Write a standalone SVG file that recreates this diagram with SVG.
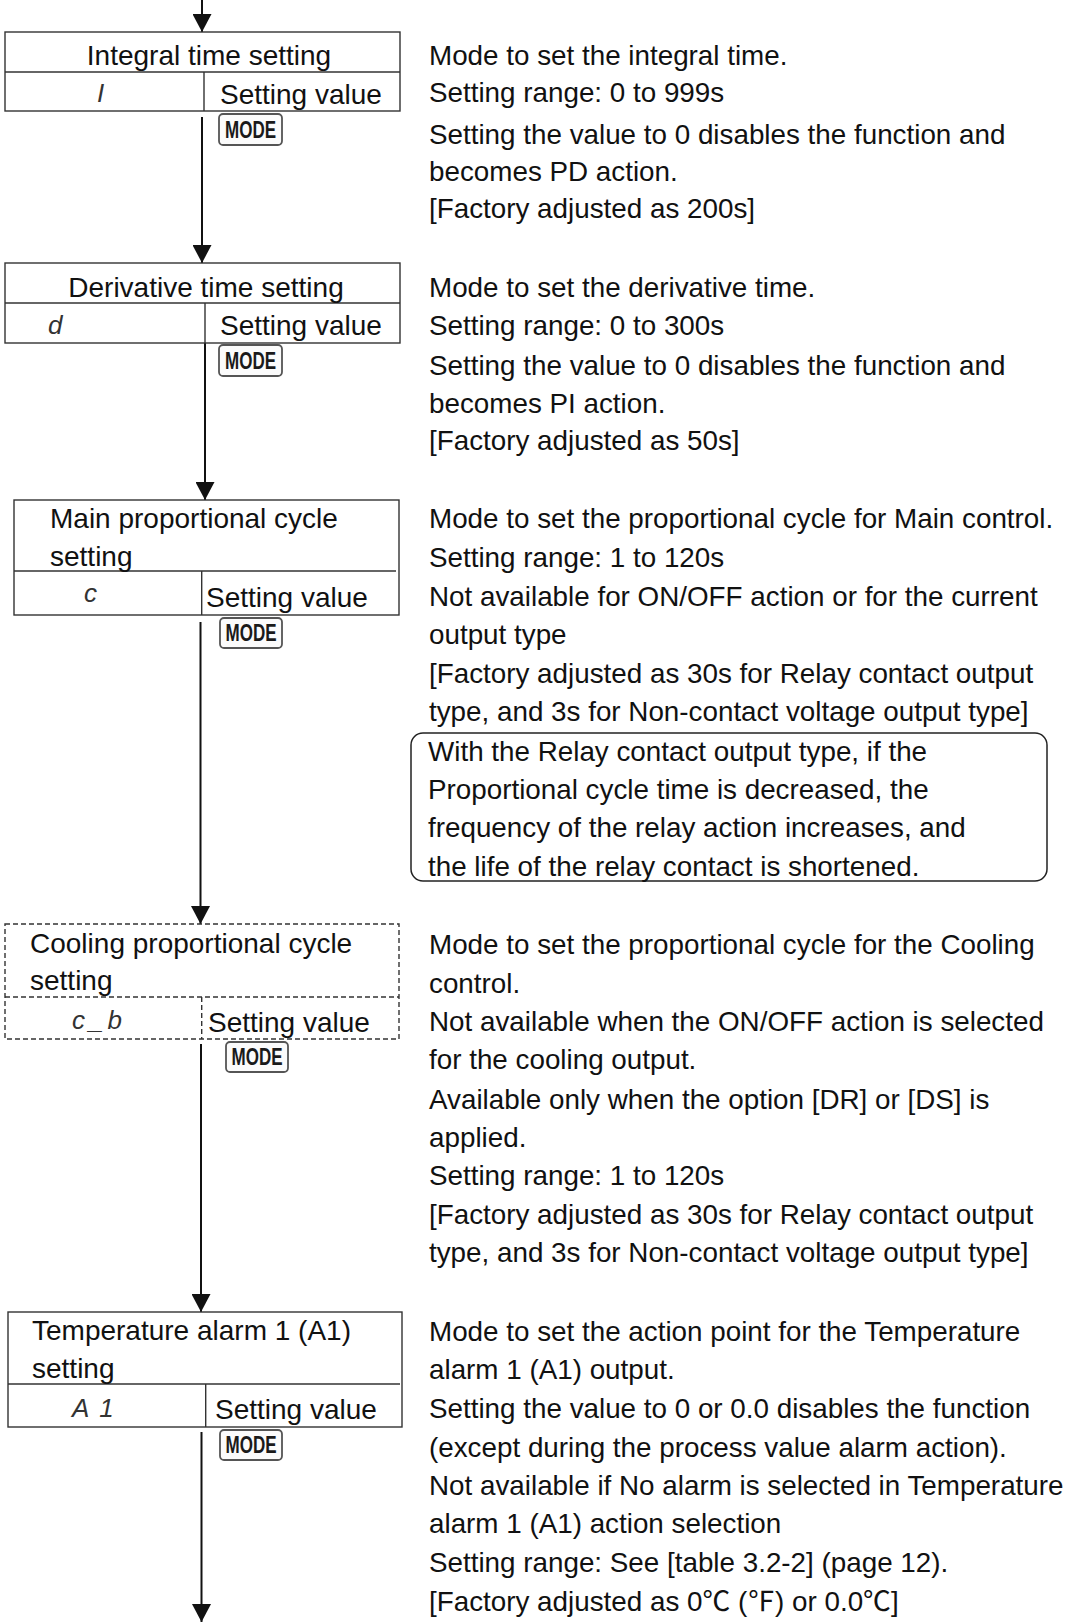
<svg xmlns="http://www.w3.org/2000/svg" width="1078" height="1622" viewBox="0 0 1078 1622">
<style>
  .box { fill: #ffffff; stroke: #333333; stroke-width: 1.4; }
  .rule { fill: none; stroke: #333333; stroke-width: 1.4; }
  .dash { stroke-dasharray: 5 3; }
  .lbl { font-family: "Liberation Sans", Arial, sans-serif; font-size: 28px; fill: #111111; }
  .desc { font-family: "Liberation Sans", Arial, "Noto Sans CJK JP", sans-serif; font-size: 27.8px; fill: #111111; }
  .seg { font-family: "Liberation Sans", Arial, sans-serif; font-style: italic; font-size: 26px; fill: #333333; }
  .key rect { fill: #fbfbfb; stroke: #555555; stroke-width: 1.8; }
  .key text { font-family: "Liberation Sans", Arial, sans-serif; font-weight: bold; font-size: 23px; fill: #1a1a1a; }
  .conn { stroke: #111111; stroke-width: 2; fill: none; marker-end: url(#arrow); }
  .note { fill: none; stroke: #222222; stroke-width: 1.5; }
</style>
<defs>
  <marker id="arrow" viewBox="0 0 18 19" refX="18" refY="9.5" markerWidth="18" markerHeight="19" markerUnits="userSpaceOnUse" orient="auto">
    <path d="M0,0 L18,9.5 L0,19 z" fill="#111111"/>
  </marker>
</defs>
<rect x="0" y="0" width="1078" height="1622" fill="#ffffff"/>

<g id="connectors">
  <line class="conn" x1="202" y1="0" x2="202" y2="32"/>
  <line class="conn" x1="202" y1="117" x2="202" y2="263"/>
  <line class="conn" x1="205" y1="343" x2="205" y2="500"/>
  <line class="conn" x1="200.5" y1="622" x2="200.5" y2="924"/>
  <line class="conn" x1="201" y1="1044" x2="201" y2="1312"/>
  <line class="conn" x1="201.5" y1="1432" x2="201.5" y2="1622"/>
</g>

<g id="node-integral">
  <rect class="box" x="5" y="32" width="395" height="79"/>
  <line class="rule" x1="5" y1="72" x2="400" y2="72"/>
  <line class="rule" x1="204" y1="72" x2="204" y2="111"/>
  <text class="lbl" x="209" y="65" text-anchor="middle">Integral time setting</text>
  <text class="seg" x="97" y="102">I</text>
  <text class="lbl" x="220" y="104">Setting value</text>
  <g class="key"><rect x="219" y="114" width="63" height="31" rx="4"/><text x="250.5" y="138" text-anchor="middle" textLength="51" lengthAdjust="spacingAndGlyphs">MODE</text></g>
</g>

<g id="node-integral-desc">
  <text class="desc">
    <tspan x="429" y="65">Mode to set the integral time.</tspan>
    <tspan x="429" y="102">Setting range: 0 to 999s</tspan>
    <tspan x="429" y="144">Setting the value to 0 disables the function and</tspan>
    <tspan x="429" y="181">becomes PD action.</tspan>
    <tspan x="429" y="218">[Factory adjusted as 200s]</tspan>
  </text>
</g>

<g id="node-derivative">
  <rect class="box" x="5" y="263" width="395" height="80"/>
  <line class="rule" x1="5" y1="303" x2="400" y2="303"/>
  <line class="rule" x1="205" y1="303" x2="205" y2="343"/>
  <text class="lbl" x="206" y="297" text-anchor="middle">Derivative time setting</text>
  <text class="seg" x="48" y="334">d</text>
  <text class="lbl" x="220" y="335">Setting value</text>
  <g class="key"><rect x="219" y="345" width="63" height="31" rx="4"/><text x="250.5" y="369" text-anchor="middle" textLength="51" lengthAdjust="spacingAndGlyphs">MODE</text></g>
</g>

<g id="node-derivative-desc">
  <text class="desc">
    <tspan x="429" y="297">Mode to set the derivative time.</tspan>
    <tspan x="429" y="335">Setting range: 0 to 300s</tspan>
    <tspan x="429" y="375">Setting the value to 0 disables the function and</tspan>
    <tspan x="429" y="413">becomes PI action.</tspan>
    <tspan x="429" y="450">[Factory adjusted as 50s]</tspan>
  </text>
</g>

<g id="node-main-cycle">
  <rect class="box" x="14" y="500" width="385" height="115"/>
  <line class="rule" x1="14" y1="571" x2="396" y2="571"/>
  <line class="rule" x1="201.7" y1="571" x2="201.7" y2="615"/>
  <text class="lbl" x="50" y="528">Main proportional cycle</text>
  <text class="lbl" x="50" y="566">setting</text>
  <text class="seg" x="84" y="602">c</text>
  <text class="lbl" x="206" y="607">Setting value</text>
  <g class="key"><rect x="220" y="618" width="62" height="30" rx="4"/><text x="251" y="641" text-anchor="middle" textLength="51" lengthAdjust="spacingAndGlyphs">MODE</text></g>
</g>

<g id="node-main-cycle-desc">
  <text class="desc">
    <tspan x="429" y="528">Mode to set the proportional cycle for Main control.</tspan>
    <tspan x="429" y="567">Setting range: 1 to 120s</tspan>
    <tspan x="429" y="606">Not available for ON/OFF action or for the current</tspan>
    <tspan x="429" y="644">output type</tspan>
    <tspan x="429" y="683">[Factory adjusted as 30s for Relay contact output</tspan>
    <tspan x="429" y="721">type, and 3s for Non-contact voltage output type]</tspan>
  </text>
</g>

<g id="node-relay-note">
  <rect class="note" x="411" y="733" width="636" height="148" rx="12"/>
  <text class="desc">
    <tspan x="428" y="761">With the Relay contact output type, if the</tspan>
    <tspan x="428" y="799">Proportional cycle time is decreased, the</tspan>
    <tspan x="428" y="837">frequency of the relay action increases, and</tspan>
    <tspan x="428" y="876">the life of the relay contact is shortened.</tspan>
  </text>
</g>

<g id="node-cooling-cycle">
  <rect class="box dash" x="5" y="924" width="394" height="115"/>
  <line class="rule dash" x1="5" y1="997" x2="399" y2="997"/>
  <line class="rule dash" x1="201.7" y1="997" x2="201.7" y2="1039"/>
  <text class="lbl" x="30" y="953">Cooling proportional cycle</text>
  <text class="lbl" x="30" y="990">setting</text>
  <text class="seg" x="72" y="1029" letter-spacing="4">c_b</text>
  <text class="lbl" x="208" y="1032">Setting value</text>
  <g class="key"><rect x="226" y="1042" width="62" height="30" rx="4"/><text x="257" y="1065" text-anchor="middle" textLength="51" lengthAdjust="spacingAndGlyphs">MODE</text></g>
</g>

<g id="node-cooling-cycle-desc">
  <text class="desc">
    <tspan x="429" y="954">Mode to set the proportional cycle for the Cooling</tspan>
    <tspan x="429" y="993">control.</tspan>
    <tspan x="429" y="1031">Not available when the ON/OFF action is selected</tspan>
    <tspan x="429" y="1069">for the cooling output.</tspan>
    <tspan x="429" y="1109">Available only when the option [DR] or [DS] is</tspan>
    <tspan x="429" y="1147">applied.</tspan>
    <tspan x="429" y="1185">Setting range: 1 to 120s</tspan>
    <tspan x="429" y="1224">[Factory adjusted as 30s for Relay contact output</tspan>
    <tspan x="429" y="1262">type, and 3s for Non-contact voltage output type]</tspan>
  </text>
</g>

<g id="node-alarm1">
  <rect class="box" x="8" y="1312" width="394" height="115"/>
  <line class="rule" x1="8" y1="1384" x2="400" y2="1384"/>
  <line class="rule" x1="205.7" y1="1384" x2="205.7" y2="1427"/>
  <text class="lbl" x="32" y="1340">Temperature alarm 1 (A1)</text>
  <text class="lbl" x="32" y="1378">setting</text>
  <text class="seg" x="72" y="1417" letter-spacing="10">A1</text>
  <text class="lbl" x="215" y="1419">Setting value</text>
  <g class="key"><rect x="220" y="1430" width="62" height="30" rx="4"/><text x="251" y="1453" text-anchor="middle" textLength="51" lengthAdjust="spacingAndGlyphs">MODE</text></g>
</g>

<g id="node-alarm1-desc">
  <text class="desc">
    <tspan x="429" y="1341">Mode to set the action point for the Temperature</tspan>
    <tspan x="429" y="1379">alarm 1 (A1) output.</tspan>
    <tspan x="429" y="1418">Setting the value to 0 or 0.0 disables the function</tspan>
    <tspan x="429" y="1457">(except during the process value alarm action).</tspan>
    <tspan x="429" y="1495">Not available if No alarm is selected in Temperature</tspan>
    <tspan x="429" y="1533">alarm 1 (A1) action selection</tspan>
    <tspan x="429" y="1572">Setting range: See [table 3.2-2] (page 12).</tspan>
    <tspan x="429" y="1611">[Factory adjusted as 0℃ (℉) or 0.0℃]</tspan>
  </text>
</g>
</svg>
